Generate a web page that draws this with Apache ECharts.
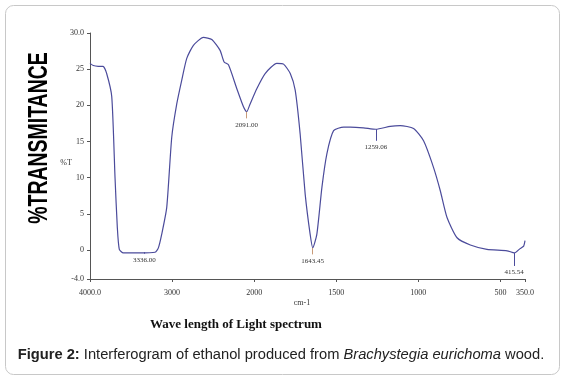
<!DOCTYPE html>
<html>
<head>
<meta charset="utf-8">
<script src="https://cdn.jsdelivr.net/npm/echarts@6/dist/echarts.min.js"></script>
<style>
  html, body { margin: 0; padding: 0; background: #fff; }
  #chart { width: 561px; height: 376px; }
</style>
</head>
<body>
<div id="chart"></div>
<script>
// spectrum (wave number cm-1, %T)
const waveNumbers = [4000, 3960, 3900, 3841, 3797, 3735, 3695, 3667, 3643, 3594, 3400, 3207, 3167, 3126, 3065, 3004, 2943, 2882, 2821, 2740, 2618, 2516, 2415, 2366, 2313, 2211, 2130, 2091, 2049, 1984, 1933, 1862, 1821, 1780, 1750, 1720, 1689, 1659, 1643, 1618, 1587, 1557, 1516, 1455, 1415, 1334, 1259, 1171, 1110, 1029, 968, 907, 866, 825, 764, 683, 582, 459, 415, 380, 358, 350]
const transmittance = [25.8, 25.5, 25.4, 25.4, 24.4, 21.2, 10.0, 3.1, 0.1, -0.4, -0.4, -0.3, 0.3, 2.2, 5.9, 15.6, 20.2, 23.5, 26.5, 28.3, 29.4, 29.1, 27.6, 26.0, 25.6, 22.3, 19.8, 19.1, 20.2, 22.3, 24.4, 25.8, 25.7, 24.4, 22.1, 16.1, 7.7, 2.2, 0.3, 2.2, 8.7, 13.3, 16.5, 17.0, 17.0, 16.9, 16.7, 17.1, 17.2, 16.8, 15.1, 11.4, 8.2, 4.5, 1.7, 0.7, 0.1, -0.1, -0.4, 0.2, 0.55, 1.3]

// labelled peaks
const peakWn = [3336.00, 2091.00, 1643.45, 1259.06, 415.54]
const peakT = [-0.3, 19.1, 0.3, 16.7, -0.4]
const peakTick = [0.2, 0.9, 0.9, 1.6, 1.8]
const peakColor = ['#4b4b9b', '#c89a78', '#c89a78', '#4b4b9b', '#4b4b9b']

const xTicks = [4000, 3000, 2000, 1500, 1000, 500, 350]
const yTicks = [-4, 0, 5, 10, 15, 20, 25, 30]

// the axis is expanded 2x below 2000 cm-1
const toPos = (wn) => wn >= 2000 ? 4000 - wn : 2000 + (2000 - wn) * 2
const toWn = (p) => p <= 2000 ? 4000 - p : 2000 - (p - 2000) / 2

const serif = 'Liberation Serif'
const lineColor = '#4b4b9b'

const chart = echarts.init(document.getElementById('chart'))

const peakLines = peakWn.map((wn, i) => [
    { name: wn.toFixed(2), coord: [toPos(wn), peakT[i]], lineStyle: { color: peakColor[i] } },
    { coord: [toPos(wn), peakT[i] - peakTick[i]] }
])

chart.setOption({
    animation: false,
    grid: { left: 90, right: 36, top: 33, bottom: 97 },
    xAxis: {
        type: 'value',
        min: 0,
        max: toPos(350),
        splitLine: { show: false },
        axisLine: { onZero: false, lineStyle: { color: '#555', width: 1 } },
        axisTick: { customValues: xTicks.map(toPos), length: 3, lineStyle: { color: '#555' } },
        axisLabel: {
            customValues: xTicks.map(toPos),
            fontFamily: serif, fontSize: 8, color: '#333', margin: 10,
            formatter: (v) => {
                const wn = Math.round(toWn(v))
                return (wn === 4000 || wn === 350) ? wn.toFixed(1) : String(wn)
            }
        }
    },
    yAxis: {
        type: 'value',
        min: -4,
        max: 30,
        splitLine: { show: false },
        axisLine: { show: true, lineStyle: { color: '#555', width: 1 } },
        axisTick: { show: true, customValues: yTicks, length: 3, lineStyle: { color: '#555' } },
        axisLabel: {
            customValues: yTicks,
            fontFamily: serif, fontSize: 8, color: '#333', margin: 6,
            formatter: (v) => (v === -4 || v === 30) ? v.toFixed(1) : String(v)
        }
    },
    series: [{
        type: 'line',
        data: waveNumbers.map((wn, i) => [toPos(wn), transmittance[i]]),
        symbol: 'none',
        smooth: 0.2,
        lineStyle: { color: lineColor, width: 1.2 },
        markLine: {
            silent: true,
            symbol: ['none', 'none'],
            lineStyle: { type: 'solid', width: 1 },
            label: {
                position: 'end',
                fontFamily: serif, fontSize: 7, color: '#333', distance: 3,
                formatter: (p) => p.name
            },
            data: peakLines
        }
    }],
    graphic: [
        {
            type: 'rect', left: 3, top: 3, silent: true,
            shape: { width: 554, height: 369, r: 8 },
            style: { fill: 'none', stroke: '#c8c8c8', lineWidth: 1 }
        },
        {
            type: 'text', x: 40, y: 138, rotation: Math.PI / 2, scaleX: 0.72,
            style: {
                text: '%TRANSMITANCE', font: 'bold 27px "Liberation Sans"',
                fill: '#000', align: 'center', verticalAlign: 'middle'
            }
        },
        {
            type: 'text', x: 66, y: 163,
            style: { text: '%T', font: '8px "Liberation Serif"', fill: '#333', align: 'center', verticalAlign: 'middle' }
        },
        {
            type: 'text', x: 302, y: 303,
            style: { text: 'cm-1', font: '8px "Liberation Serif"', fill: '#333', align: 'center', verticalAlign: 'middle' }
        },
        {
            type: 'text', x: 236, y: 325,
            style: { text: 'Wave length of Light spectrum', font: 'bold 13px "Liberation Serif"', fill: '#111', align: 'center', verticalAlign: 'middle' }
        },
        {
            type: 'text', x: 281, y: 355,
            style: {
                text: '{b|Figure 2:} Interferogram of ethanol produced from {i|Brachystegia eurichoma} wood.',
                font: '14.7px "Liberation Sans"', fill: '#222', align: 'center', verticalAlign: 'middle',
                rich: {
                    b: { fontWeight: 'bold', fontSize: 14.7, fontFamily: 'Liberation Sans', fill: '#222' },
                    i: { fontStyle: 'italic', fontSize: 14.7, fontFamily: 'Liberation Sans', fill: '#222' }
                }
            }
        }
    ]
})
</script>
</body>
</html>
